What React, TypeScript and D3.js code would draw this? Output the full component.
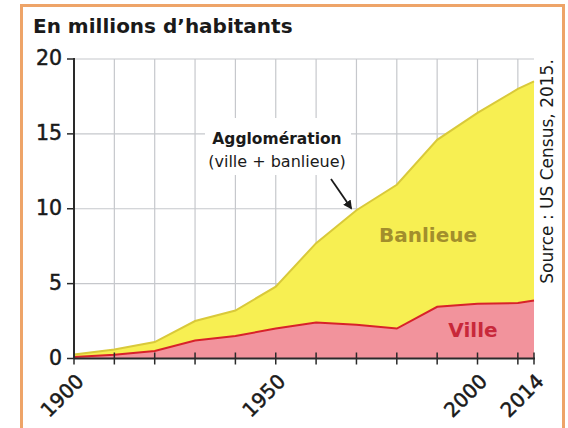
import * as d3 from "d3";

const years = [1900, 1910, 1920, 1930, 1940, 1950, 1960, 1970, 1980, 1990, 2000, 2010, 2014];
const ville = [0.1, 0.25, 0.5, 1.2, 1.5, 2.0, 2.4, 2.25, 2.0, 3.45, 3.65, 3.7, 3.87];
const agglo = [0.27, 0.6, 1.1, 2.5, 3.2, 4.8, 7.7, 9.9, 11.6, 14.6, 16.4, 18.0, 18.5];
const yTicks = [0, 5, 10, 15, 20];
const xLabels = [1900, 1950, 2000, 2014];
const xTicks = [1900, 1910, 1920, 1930, 1940, 1950, 1960, 1970, 1980, 1990, 2000, 2010, 2014];
const gridYears = [1910, 1920, 1930, 1940, 1950, 1960, 1970, 1980, 1990, 2000, 2010];

const font = "'DejaVu Sans', 'Open Sans', sans-serif";

export default function App() {
  const x = d3.scaleLinear().domain([1900, 2014]).range([74, 534]);
  const y = d3.scaleLinear().domain([0, 20]).range([358.5, 59]);

  const pts = years.map((yr, i) => ({ yr, v: ville[i], a: agglo[i] }));

  const areaAgglo = d3
    .area<any>()
    .x((d) => x(d.yr))
    .y0(y(0))
    .y1((d) => y(d.a))(pts);
  const areaVille = d3
    .area<any>()
    .x((d) => x(d.yr))
    .y0(y(0))
    .y1((d) => y(d.v))(pts);
  const lineAgglo = d3
    .line<any>()
    .x((d) => x(d.yr))
    .y((d) => y(d.a))(pts);
  const lineVille = d3
    .line<any>()
    .x((d) => x(d.yr))
    .y((d) => y(d.v))(pts);

  return (
    <svg
      width={568}
      height={428}
      style={{ position: "absolute", left: 0, top: 0, background: "#fff" }}
      fontFamily={font}
    >
      <defs>
        <marker id="arr" viewBox="0 0 10 10" refX="8" refY="5" markerWidth="5" markerHeight="5" orient="auto">
          <path d="M0,0 L10,5 L0,10 z" fill="#1a1a1a" />
        </marker>
      </defs>
      <rect x={21.5} y={5.5} width={542} height={424} fill="#fff" stroke="#eea468" strokeWidth={3} />

      <text x={33} y={33} fontSize={20} fontWeight="bold" fill="#1a1a1a">
        En millions d’habitants
      </text>

      {/* grid */}
      {gridYears.map((g) => (
        <line key={"gx" + g} x1={x(g)} x2={x(g)} y1={y(20)} y2={y(0)} stroke="#c6c8cc" strokeWidth={1.2} />
      ))}
      {yTicks.slice(1).map((t) => (
        <line key={"gy" + t} x1={x(1900)} x2={x(2014)} y1={y(t)} y2={y(t)} stroke="#c6c8cc" strokeWidth={1.2} />
      ))}

      {/* annotation backdrop */}
      <rect x={205} y={118} width={146} height={57} fill="#fff" />

      {/* areas */}
      <path d={areaAgglo!} fill="#f7ef52" />
      <path d={lineAgglo!} fill="none" stroke="#d9c93a" strokeWidth={2} />
      <path d={areaVille!} fill="#f2939c" />
      <path d={lineVille!} fill="none" stroke="#d8222a" strokeWidth={2} />

      {/* axes */}
      <line x1={x(1900)} x2={x(1900)} y1={y(20) - 1} y2={y(0)} stroke="#2a2a2a" strokeWidth={2} />
      <line x1={x(1900)} x2={x(2014) + 1} y1={y(0)} y2={y(0)} stroke="#2a2a2a" strokeWidth={2} />
      {yTicks.map((t) => (
        <g key={"yt" + t}>
          <line x1={x(1900) - 7} x2={x(1900)} y1={y(t)} y2={y(t)} stroke="#2a2a2a" strokeWidth={1.5} />
          <text
            x={62}
            y={y(t) - 1}
            dy="0.36em"
            textAnchor="end"
            fontSize={20.5}
            fill="#1a1a1a"
            stroke="#1a1a1a"
            strokeWidth={0.5}
          >
            {t}
          </text>
        </g>
      ))}
      {xTicks.map((t) => (
        <line key={"xt" + t} x1={x(t)} x2={x(t)} y1={y(0) - 6} y2={y(0) + 6} stroke="#2a2a2a" strokeWidth={1.5} />
      ))}
      {xLabels.map((t) => (
        <text
          key={"xl" + t}
          transform={`translate(${x(t) + 11},${y(0) + 24}) rotate(-45)`}
          textAnchor="end"
          fontSize={20}
          fill="#1a1a1a"
          stroke="#1a1a1a"
          strokeWidth={0.5}
        >
          {t}
        </text>
      ))}

      {/* annotation */}
      <text x={277} y={144} textAnchor="middle" fontSize={15.5} fontWeight="bold" fill="#1a1a1a">
        Agglomération
      </text>
      <text x={277} y={167} textAnchor="middle" fontSize={16} fill="#1a1a1a">
        (ville + banlieue)
      </text>
      <line x1={331} y1={179} x2={351} y2={208} stroke="#1a1a1a" strokeWidth={1.8} markerEnd="url(#arr)" />

      <text x={428} y={242} textAnchor="middle" fontSize={20} fontWeight="bold" fill="#a28e2c">
        Banlieue
      </text>
      <text x={473} y={337} textAnchor="middle" fontSize={20} fontWeight="bold" fill="#c8283a">
        Ville
      </text>

      <text
        transform="translate(553,171.5) rotate(-90)"
        textAnchor="middle"
        fontSize={17}
        fill="#1a1a1a"
      >
        Source : US Census, 2015.
      </text>
    </svg>
  );
}
